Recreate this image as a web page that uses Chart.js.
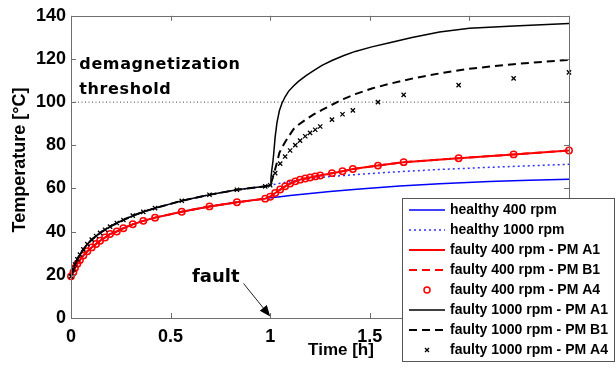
<!DOCTYPE html>
<html lang="en">
<head>
  <meta charset="UTF-8">
  <title>Magnet temperature before and after fault</title>
  <style>
    html, body { margin: 0; padding: 0; background: #ffffff; }
    #wrap { width: 615px; height: 368px; }
  </style>
  <script src="https://cdn.jsdelivr.net/npm/chart.js"></script>
</head>
<body>
  <div id="wrap"><canvas id="tempChart" width="615" height="368"></canvas></div>
  <script>
    // ---- values (time in hours, temperature in degC) ----
    // time stamps of the PM A4 markers; the 400 rpm lines also pass through them
    const sampleHours = [0, 0.012, 0.02, 0.032, 0.045, 0.062, 0.082, 0.104, 0.126, 0.146,
      0.171, 0.196, 0.23, 0.263, 0.31, 0.363, 0.422, 0.556, 0.695, 0.833,
      0.975, 1.0, 1.025, 1.05, 1.075, 1.1, 1.126, 1.15, 1.176, 1.2,
      1.226, 1.251, 1.31, 1.363, 1.415, 1.541, 1.67, 1.946, 2.222, 2.5];

    const faulty400A1 = [19.3, 21.2, 23.2, 25.1, 26.9, 28.9, 30.9, 32.7, 34.3, 35.8,
      37.3, 38.9, 40.1, 41.6, 43.4, 45.0, 46.5, 49.2, 51.7, 53.6,
      55.3, 56.2, 57.9, 59.5, 61.0, 62.3, 63.3, 64.1, 64.6, 65.1,
      65.6, 66.0, 67.1, 68.0, 69.0, 70.6, 72.2, 74.0, 75.8, 77.6];
    const faulty400B1 = [19.3, 21.2, 23.2, 25.1, 26.9, 28.9, 30.9, 32.7, 34.3, 35.8,
      37.3, 38.9, 40.1, 41.6, 43.4, 45.0, 46.5, 49.2, 51.7, 53.6,
      55.3, 56.2, 57.9, 59.5, 61.0, 62.3, 63.3, 64.1, 64.6, 65.1,
      65.6, 66.0, 67.1, 68.0, 69.0, 70.6, 72.2, 74.0, 75.8, 77.6];
    const faulty400A4 = [19.3, 21.2, 23.2, 25.1, 26.9, 28.9, 30.9, 32.7, 34.3, 35.8,
      37.3, 38.9, 40.1, 41.6, 43.4, 45.0, 46.5, 49.2, 51.7, 53.6,
      55.3, 56.2, 57.9, 59.5, 61.0, 62.3, 63.3, 64.1, 64.6, 65.1,
      65.6, 66.0, 67.1, 68.0, 69.0, 70.6, 72.2, 74.0, 75.8, 77.6];
    const faulty1000A4 = [19.3, 22.5, 24.8, 27.2, 29.4, 31.8, 34.2, 36.3, 38.0, 39.4,
      40.9, 42.3, 44.0, 45.4, 47.4, 49.2, 50.9, 54.3, 57.1, 59.4,
      61.0, 61.5, 67.1, 71.5, 74.8, 77.6, 80.1, 82.2, 84.2, 85.8,
      87.2, 88.7, 91.9, 94.4, 96.2, 100.0, 103.4, 107.9, 111.0, 113.8];

    // 1000 rpm A1 / B1 lines, denser right after the fault
    const fastHours = [0, 0.012, 0.02, 0.032, 0.045, 0.062, 0.082, 0.104, 0.126, 0.146,
      0.171, 0.196, 0.23, 0.263, 0.31, 0.363, 0.422, 0.556, 0.695, 0.833,
      0.975, 1.0, 1.004, 1.008, 1.013, 1.017, 1.025, 1.034, 1.046, 1.059,
      1.075, 1.092, 1.117, 1.142, 1.18, 1.218, 1.26, 1.31, 1.37, 1.427,
      1.51, 1.594, 1.712, 1.85, 2.0, 2.223, 2.5];
    const faulty1000A1 = [19.3, 22.5, 24.8, 27.2, 29.4, 31.8, 34.2, 36.3, 38.0, 39.4,
      40.9, 42.3, 44.0, 45.4, 47.4, 49.2, 50.9, 54.3, 57.1, 59.4,
      61.0, 61.5, 65.0, 68.5, 72.0, 75.5, 84.0, 90.5, 96.0, 99.5,
      102.5, 105.0, 107.5, 109.6, 112.3, 114.6, 117.0, 119.3, 121.6, 123.5,
      125.6, 127.4, 129.9, 132.5, 134.2, 135.3, 136.4];
    const faulty1000B1 = [19.3, 22.5, 24.8, 27.2, 29.4, 31.8, 34.2, 36.3, 38.0, 39.4,
      40.9, 42.3, 44.0, 45.4, 47.4, 49.2, 50.9, 54.3, 57.1, 59.4,
      61.0, 61.5, 62.5, 63.5, 65.0, 66.5, 69.0, 72.0, 76.5, 79.0,
      81.5, 84.0, 87.5, 89.5, 92.0, 94.3, 96.4, 98.8, 101.5, 103.7,
      106.3, 108.4, 110.9, 113.3, 115.5, 117.6, 119.6];

    // healthy machines (hidden under the faulty curves before 1 h)
    const healthyHours = [0, 0.012, 0.02, 0.032, 0.045, 0.062, 0.082, 0.104, 0.126, 0.146,
      0.171, 0.196, 0.23, 0.263, 0.31, 0.363, 0.422, 0.556, 0.695, 0.833,
      0.975, 1.0, 1.05, 1.1, 1.2, 1.3, 1.45, 1.65, 1.85, 2.1, 2.3, 2.5];
    const healthy400 = [19.3, 21.2, 23.2, 25.1, 26.9, 28.9, 30.9, 32.7, 34.3, 35.8,
      37.3, 38.9, 40.1, 41.6, 43.4, 45.0, 46.5, 49.2, 51.7, 53.6,
      55.3, 55.7, 56.2, 56.7, 57.7, 58.6, 59.8, 61.1, 62.2, 63.2, 63.8, 64.3];
    const healthy1000 = [19.3, 22.5, 24.8, 27.2, 29.4, 31.8, 34.2, 36.3, 38.0, 39.4,
      40.9, 42.3, 44.0, 45.4, 47.4, 49.2, 50.9, 54.3, 57.1, 59.4,
      61.0, 61.5, 62.4, 63.3, 64.6, 65.5, 66.6, 67.8, 68.8, 69.8, 70.5, 71.2];

    const thresholdHours = [0, 2.5];
    const thresholdTemp = [100, 100];

    const xTicks = [0, 0.5, 1, 1.5, 2, 2.5];
    const yTicks = [0, 20, 40, 60, 80, 100, 120, 140];

    const SANS = '"Liberation Sans", Arial, sans-serif';
    const HEAVY = '"DejaVu Sans", sans-serif';

    function pts(xs, ys) {
      return xs.map((x, i) => ({ x: x, y: ys[i] }));
    }

    const datasets = [
      { label: 'healthy 400 rpm', data: pts(healthyHours, healthy400),
        borderColor: '#0000ff', borderWidth: 1.5, order: 8 },
      { label: 'healthy 1000 rpm', data: pts(healthyHours, healthy1000),
        borderColor: '#3030ff', borderWidth: 1.5, borderDash: [2, 3], order: 7 },
      { label: 'faulty 400 rpm - PM A1', data: pts(sampleHours, faulty400A1),
        borderColor: '#ff0000', borderWidth: 2, order: 5 },
      { label: 'faulty 400 rpm - PM B1', data: pts(sampleHours, faulty400B1),
        borderColor: '#ff0000', borderWidth: 2, borderDash: [8, 5], order: 6 },
      { label: 'faulty 400 rpm - PM A4', data: pts(sampleHours, faulty400A4),
        showLine: false, pointStyle: 'circle', pointRadius: 3.2, pointBorderWidth: 1.5,
        pointBorderColor: '#ff0000', pointBackgroundColor: 'rgba(0,0,0,0)', borderColor: '#ff0000', order: 4 },
      { label: 'faulty 1000 rpm - PM A1', data: pts(fastHours, faulty1000A1),
        borderColor: '#000000', borderWidth: 1.5, order: 2 },
      { label: 'faulty 1000 rpm - PM B1', data: pts(fastHours, faulty1000B1),
        borderColor: '#000000', borderWidth: 2, borderDash: [8, 5], order: 3 },
      { label: 'faulty 1000 rpm - PM A4', data: pts(sampleHours, faulty1000A4),
        showLine: false, pointStyle: 'crossRot', pointRadius: 3, pointBorderWidth: 1.3,
        pointBorderColor: '#000000', borderColor: '#000000', order: 1 },
      { label: '', data: pts(thresholdHours, thresholdTemp), hideInLegend: true,
        borderColor: '#444444', borderWidth: 1, borderDash: [1, 2.5], order: 9 }
    ];
    datasets.forEach(d => {
      d.showLine = d.showLine !== false;
      d.tension = 0;
      d.fill = false;
      d.clip = false;
      if (d.pointRadius === undefined) d.pointRadius = 0;
    });

    // axes box with inward ticks on all four sides, axis titles and notes
    const framePlugin = {
      id: 'frame',
      afterDatasetsDraw(chart) {
        const { ctx, chartArea: a, scales } = chart;
        ctx.save();
        ctx.strokeStyle = '#6e6e6e';
        ctx.lineWidth = 1;
        ctx.strokeRect(Math.round(a.left) + 0.5, Math.round(a.top) + 0.5,
          Math.round(a.right - a.left), Math.round(a.bottom - a.top));
        ctx.beginPath();
        xTicks.forEach(v => {
          const px = Math.round(scales.x.getPixelForValue(v)) + 0.5;
          ctx.moveTo(px, a.bottom); ctx.lineTo(px, a.bottom - 5);
          ctx.moveTo(px, a.top); ctx.lineTo(px, a.top + 5);
        });
        yTicks.forEach(v => {
          const py = Math.round(scales.y.getPixelForValue(v)) + 0.5;
          ctx.moveTo(a.left, py); ctx.lineTo(a.left + 5, py);
          ctx.moveTo(a.right, py); ctx.lineTo(a.right - 5, py);
        });
        ctx.stroke();

        // axis titles
        ctx.fillStyle = '#000';
        ctx.textAlign = 'center';
        ctx.textBaseline = 'middle';
        ctx.font = 'bold 17px ' + SANS;
        ctx.fillText('Time [h]', 341, 350);
        ctx.save();
        ctx.translate(20, 160);
        ctx.rotate(-Math.PI / 2);
        ctx.font = 'bold 18px ' + SANS;
        ctx.fillText('Temperature [°C]', 0, 0);
        ctx.restore();

        // annotations
        const X = v => scales.x.getPixelForValue(v);
        const Y = v => scales.y.getPixelForValue(v);
        ctx.font = 'bold 16px ' + HEAVY;
        ctx.textBaseline = 'alphabetic';
        ctx.textAlign = 'left';
        ctx.letterSpacing = '0.6px';
        ctx.fillText('demagnetization', X(0.042), Y(115.3));
        ctx.fillText('threshold', X(0.042), Y(103.8));
        ctx.letterSpacing = '0px';
        ctx.font = 'bold 18px ' + HEAVY;
        ctx.fillText('fault', X(0.607), Y(16.7));

        // arrow to the fault instant
        const x0 = X(0.866), y0 = Y(16), x1 = X(1), y1 = Y(0.7);
        const ang = Math.atan2(y1 - y0, x1 - x0);
        ctx.strokeStyle = '#222';
        ctx.lineWidth = 1;
        ctx.beginPath();
        ctx.moveTo(x0, y0);
        ctx.lineTo(x1 - 8 * Math.cos(ang), y1 - 8 * Math.sin(ang));
        ctx.stroke();
        ctx.beginPath();
        ctx.moveTo(x1, y1);
        ctx.lineTo(x1 - 11 * Math.cos(ang) + 4.5 * Math.sin(ang), y1 - 11 * Math.sin(ang) - 4.5 * Math.cos(ang));
        ctx.lineTo(x1 - 11 * Math.cos(ang) - 4.5 * Math.sin(ang), y1 - 11 * Math.sin(ang) + 4.5 * Math.cos(ang));
        ctx.closePath();
        ctx.fill();
        ctx.restore();
      }
    };

    // boxed legend in the lower right, overlapping the axes like the original
    const legendPlugin = {
      id: 'boxLegend',
      afterDraw(chart) {
        const ctx = chart.ctx;
        const bx = 402.5, by = 198.5, bw = 212, bh = 163;
        ctx.save();
        ctx.fillStyle = '#ffffff';
        ctx.fillRect(bx, by, bw, bh);
        ctx.strokeStyle = '#555555';
        ctx.lineWidth = 1;
        ctx.strokeRect(bx, by, bw, bh);
        const items = chart.data.datasets.filter(d => !d.hideInLegend);
        items.forEach((d, i) => {
          const cy = 210 + i * 20;
          if (d.showLine) {
            ctx.strokeStyle = d.borderColor;
            ctx.lineWidth = d.borderWidth;
            ctx.setLineDash(d.borderDash || []);
            ctx.beginPath();
            ctx.moveTo(409, cy);
            ctx.lineTo(445, cy);
            ctx.stroke();
            ctx.setLineDash([]);
          } else if (d.pointStyle === 'circle') {
            ctx.strokeStyle = d.pointBorderColor;
            ctx.lineWidth = 1.5;
            ctx.beginPath();
            ctx.arc(427, cy, 3, 0, Math.PI * 2);
            ctx.stroke();
          } else {
            ctx.strokeStyle = d.pointBorderColor;
            ctx.lineWidth = 1.3;
            ctx.beginPath();
            ctx.moveTo(425, cy - 2); ctx.lineTo(429, cy + 2);
            ctx.moveTo(429, cy - 2); ctx.lineTo(425, cy + 2);
            ctx.stroke();
          }
          ctx.fillStyle = '#000';
          ctx.font = 'bold 14px ' + SANS;
          ctx.textBaseline = 'middle';
          ctx.textAlign = 'left';
          ctx.fillText(d.label, 450, cy + 0.5);
        });
        ctx.restore();
      }
    };

    new Chart(document.getElementById('tempChart'), {
      type: 'scatter',
      data: { datasets: datasets },
      options: {
        responsive: false,
        animation: false,
        layout: { padding: { left: 0, top: 13, right: 46, bottom: 0 } },
        plugins: {
          legend: { display: false },
          tooltip: { enabled: false }
        },
        scales: {
          x: {
            type: 'linear', min: 0, max: 2.5,
            afterFit(scale) { scale.height = 50; },
            grid: { display: false, drawTicks: false },
            border: { display: false },
            ticks: {
              stepSize: 0.5, autoSkip: false, maxRotation: 0, padding: 8,
              color: '#000', font: { family: SANS, size: 18, weight: 'bold' },
              callback: v => String(Math.round(v * 10) / 10)
            }
          },
          y: {
            type: 'linear', min: 0, max: 140,
            afterFit(scale) { scale.width = 71; },
            grid: { display: false, drawTicks: false },
            border: { display: false },
            ticks: {
              stepSize: 20, autoSkip: false, padding: 5,
              color: '#000', font: { family: SANS, size: 18, weight: 'bold' }
            }
          }
        }
      },
      plugins: [framePlugin, legendPlugin]
    });
  </script>
</body>
</html>
